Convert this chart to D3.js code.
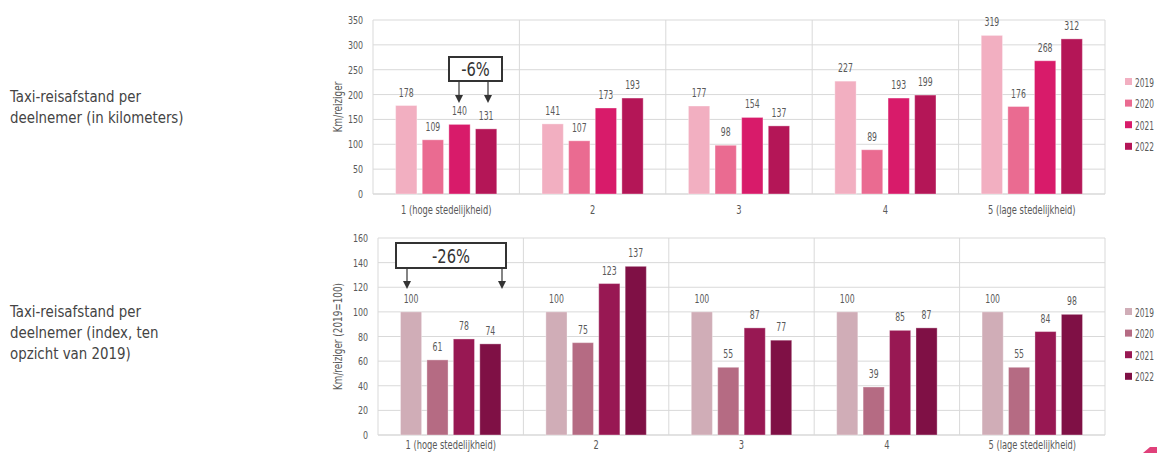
<!DOCTYPE html>
<html><head><meta charset="utf-8">
<script src="https://cdn.jsdelivr.net/npm/d3@7"></script>
<style>
body{margin:0;background:#fff;}
svg text{font-family:"DejaVu Sans Condensed","Liberation Sans Narrow",sans-serif;}
</style></head>
<body><svg id="c" width="1157" height="453"></svg>
<script>
const categories = ["1 (hoge stedelijkheid)", "2", "3", "4", "5 (lage stedelijkheid)"];
const years = ["2019", "2020", "2021", "2022"];
const kmValues = [
  [178, 109, 140, 131],
  [141, 107, 173, 193],
  [177, 98, 154, 137],
  [227, 89, 193, 199],
  [319, 176, 268, 312]
];
const indexValues = [
  [100, 61, 78, 74],
  [100, 75, 123, 137],
  [100, 55, 87, 77],
  [100, 39, 85, 87],
  [100, 55, 84, 98]
];
const kmTicks = [0, 50, 100, 150, 200, 250, 300, 350];
const indexTicks = [0, 20, 40, 60, 80, 100, 120, 140, 160];
const kmColors = ["#f2afc1", "#ea6b91", "#d81b6a", "#b41657"];
const indexColors = ["#d0adb7", "#b56b83", "#981853", "#7f1045"];
const titles = [
  ["Taxi-reisafstand per", "deelnemer (in kilometers)"],
  ["Taxi-reisafstand per", "deelnemer (index, ten", "opzicht van 2019)"]
];

const svg = d3.select("#c");
const grid = "#d9d9d9", txt = "#595959";

// condensed text helper: places text at (x,y) squeezed horizontally by k
function T(parent, x, y, s, size, k, anchor, fill, rot) {
  return parent.append("text")
    .attr("transform", `translate(${x},${y})${rot ? " rotate(" + rot + ")" : ""} scale(${k},1)`)
    .attr("text-anchor", anchor || "start").attr("font-size", size).attr("fill", fill || txt)
    .text(s);
}

function panel(cfg) {
  const g = svg.append("g");
  const x = d3.scaleBand().domain(categories).range([cfg.x0, cfg.x1]).padding(0);
  const xi = d3.scaleBand().domain(years).range([0, x.bandwidth()]).paddingInner(0.2).paddingOuter(0.85);
  const y = d3.scaleLinear().domain([0, cfg.max]).range([cfg.yb, cfg.yt]);
  g.selectAll("line.h").data(cfg.ticks).join("line")
    .attr("x1", cfg.x0).attr("x2", cfg.x1)
    .attr("y1", d => y(d)).attr("y2", d => y(d))
    .attr("stroke", grid).attr("stroke-width", d => d === 0 ? 1.5 : 1);
  const seps = categories.map(c => x(c)).concat([cfg.x1]);
  g.selectAll("line.v").data(seps).join("line")
    .attr("x1", d => d).attr("x2", d => d)
    .attr("y1", y(cfg.max)).attr("y2", y(0))
    .attr("stroke", grid).attr("stroke-width", 1);
  cfg.ticks.forEach(d => T(g, cfg.x0 - 10, y(d) + 4, d, 11, 0.8, "end"));
  T(g, cfg.titleX, (y(0) + y(cfg.max)) / 2, cfg.yTitle, 12, 0.82, "middle", txt, -90);
  cfg.values.forEach((vals, ci) => {
    const cg = g.append("g").attr("transform", `translate(${x(categories[ci])},0)`);
    cg.selectAll("rect").data(vals).join("rect")
      .attr("x", (d, i) => xi(years[i])).attr("width", xi.bandwidth())
      .attr("y", d => y(d)).attr("height", d => y(0) - y(d))
      .attr("fill", (d, i) => cfg.colors[i])
      .attr("stroke", "#ffffff").attr("stroke-opacity", 0.35).attr("stroke-width", 1);
    vals.forEach((d, i) => T(cg, xi(years[i]) + xi.bandwidth() / 2, y(d) - 9, d, 11.5, 0.75, "middle"));
  });
  categories.forEach(c => T(g, x(c) + x.bandwidth() / 2, cfg.catY, c, 12, 0.77, "middle"));
  years.forEach((yr, i) => {
    const ly = cfg.legY + i * 21.6;
    g.append("rect").attr("x", 1125).attr("y", ly - 4).attr("width", 7).attr("height", 7).attr("fill", cfg.colors[i]);
    T(g, 1135, ly + 4.5, yr, 12.5, 0.66, "start");
  });
  const a = cfg.ann;
  g.append("rect").attr("x", a.bx).attr("y", a.by).attr("width", a.bw).attr("height", a.bh)
    .attr("fill", "#fff").attr("stroke", "#333").attr("stroke-width", 2);
  T(g, a.bx + a.bw / 2, a.by + a.bh / 2 + 7, a.label, 19, 0.86, "middle", "#333");
  a.arrows.forEach(ax => {
    g.append("line").attr("x1", ax).attr("x2", ax).attr("y1", a.by + a.bh).attr("y2", a.ay - 6)
      .attr("stroke", "#333").attr("stroke-width", 1.2);
    g.append("path").attr("d", `M${ax - 4},${a.ay - 8}L${ax + 4},${a.ay - 8}L${ax},${a.ay}Z`).attr("fill", "#333");
  });
}

panel({x0: 373, x1: 1105, yb: 194, yt: 20, max: 350, ticks: kmTicks, values: kmValues,
  colors: kmColors, yTitle: "Km/reiziger", titleX: 342, catY: 214, legY: 82,
  ann: {bx: 449, by: 57, bw: 53, bh: 24, label: "-6%", arrows: [459, 488], ay: 103}});
panel({x0: 378, x1: 1105, yb: 435, yt: 238, max: 160, ticks: indexTicks, values: indexValues,
  colors: indexColors, yTitle: "Km/reiziger (2019=100)", titleX: 342, catY: 449, legY: 312,
  ann: {bx: 396, by: 243, bw: 110, bh: 25, label: "-26%", arrows: [407, 502], ay: 289}});

titles.forEach((lines, k) => {
  lines.forEach((l, i) => T(svg, 10, (k === 0 ? 102 : 317) + i * 21, l, 16.5, 0.9, "start", "#444"));
});
svg.append("path").attr("d", "M1143,453L1150,447L1157,447L1157,453Z").attr("fill", "#e0407a");
</script></body></html>
